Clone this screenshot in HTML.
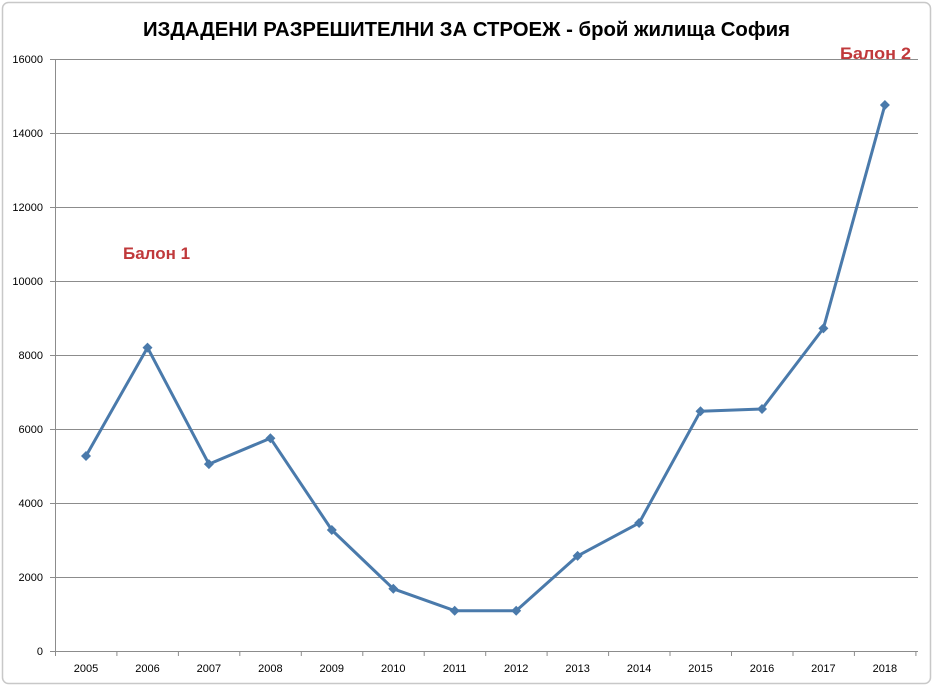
<!DOCTYPE html>
<html><head><meta charset="utf-8"><style>
body{margin:0;background:#fff;}
svg{display:block;font-family:"Liberation Sans","DejaVu Sans",sans-serif;}
</style></head><body>
<svg width="935" height="688" viewBox="0 0 935 688">
<rect x="0" y="0" width="935" height="688" fill="#fff"/>
<rect x="2.5" y="2.5" width="928" height="681" rx="6" fill="none" stroke="#c8c8c8" stroke-width="1.5"/>
<text x="143" y="36" textLength="647" lengthAdjust="spacingAndGlyphs" font-size="20" font-weight="bold" fill="#000">ИЗДАДЕНИ РАЗРЕШИТЕЛНИ ЗА СТРОЕЖ - брой жилища София</text>
<g stroke="#8c8c8c" stroke-width="1">
<line x1="50" y1="59.5" x2="918" y2="59.5"/>
<line x1="50" y1="133.5" x2="918" y2="133.5"/>
<line x1="50" y1="207.5" x2="918" y2="207.5"/>
<line x1="50" y1="281.5" x2="918" y2="281.5"/>
<line x1="50" y1="355.5" x2="918" y2="355.5"/>
<line x1="50" y1="429.5" x2="918" y2="429.5"/>
<line x1="50" y1="503.5" x2="918" y2="503.5"/>
<line x1="50" y1="577.5" x2="918" y2="577.5"/>
<line x1="50" y1="651.5" x2="918" y2="651.5"/>
<line x1="55.5" y1="59" x2="55.5" y2="656"/>
</g>
<g stroke="#8c8c8c" stroke-width="1">
<line x1="116.9" y1="651" x2="116.9" y2="656"/><line x1="178.4" y1="651" x2="178.4" y2="656"/>
<line x1="239.8" y1="651" x2="239.8" y2="656"/><line x1="301.3" y1="651" x2="301.3" y2="656"/>
<line x1="362.8" y1="651" x2="362.8" y2="656"/><line x1="424.2" y1="651" x2="424.2" y2="656"/>
<line x1="485.7" y1="651" x2="485.7" y2="656"/><line x1="547.1" y1="651" x2="547.1" y2="656"/>
<line x1="608.6" y1="651" x2="608.6" y2="656"/><line x1="670" y1="651" x2="670" y2="656"/>
<line x1="731.5" y1="651" x2="731.5" y2="656"/><line x1="793" y1="651" x2="793" y2="656"/>
<line x1="854.4" y1="651" x2="854.4" y2="656"/><line x1="915.9" y1="651" x2="915.9" y2="656"/>
</g>
<g font-size="11" fill="#000" text-anchor="end">
<text x="43" y="63">16000</text><text x="43" y="137">14000</text><text x="43" y="211">12000</text>
<text x="43" y="285">10000</text><text x="43" y="359">8000</text><text x="43" y="433">6000</text>
<text x="43" y="507">4000</text><text x="43" y="581">2000</text><text x="43" y="655">0</text>
</g>
<g font-size="11" fill="#000" text-anchor="middle">
<text x="86" y="672">2005</text><text x="147.5" y="672">2006</text><text x="208.9" y="672">2007</text>
<text x="270.4" y="672">2008</text><text x="331.8" y="672">2009</text><text x="393.3" y="672">2010</text>
<text x="454.7" y="672">2011</text><text x="516.2" y="672">2012</text><text x="577.6" y="672">2013</text>
<text x="639.1" y="672">2014</text><text x="700.5" y="672">2015</text><text x="762" y="672">2016</text>
<text x="823.4" y="672">2017</text><text x="884.9" y="672">2018</text>
</g>
<polyline fill="none" stroke="#4a7aab" stroke-width="3" stroke-linejoin="round" points="86,456 147.5,347.6 208.9,464.1 270.4,438.2 331.8,530 393.3,588.8 454.7,610.7 516.2,610.7 577.6,555.9 639.1,523 700.5,411.2 762,409 823.4,328.4 884.9,105"/>
<g fill="#4a7aab">
<path d="M86,451l5,5l-5,5l-5,-5z"/><path d="M147.5,342.6l5,5l-5,5l-5,-5z"/><path d="M208.9,459.1l5,5l-5,5l-5,-5z"/>
<path d="M270.4,433.2l5,5l-5,5l-5,-5z"/><path d="M331.8,525l5,5l-5,5l-5,-5z"/><path d="M393.3,583.8l5,5l-5,5l-5,-5z"/>
<path d="M454.7,605.7l5,5l-5,5l-5,-5z"/><path d="M516.2,605.7l5,5l-5,5l-5,-5z"/><path d="M577.6,550.9l5,5l-5,5l-5,-5z"/>
<path d="M639.1,518l5,5l-5,5l-5,-5z"/><path d="M700.5,406.2l5,5l-5,5l-5,-5z"/><path d="M762,404l5,5l-5,5l-5,-5z"/>
<path d="M823.4,323.4l5,5l-5,5l-5,-5z"/><path d="M884.9,100l5,5l-5,5l-5,-5z"/>
</g>
<text x="123" y="259" font-size="17" font-weight="bold" fill="#c0393b">Балон 1</text>
<text x="840" y="59" textLength="71" lengthAdjust="spacingAndGlyphs" font-size="17" font-weight="bold" fill="#c0393b">Балон 2</text>
</svg>
</body></html>
